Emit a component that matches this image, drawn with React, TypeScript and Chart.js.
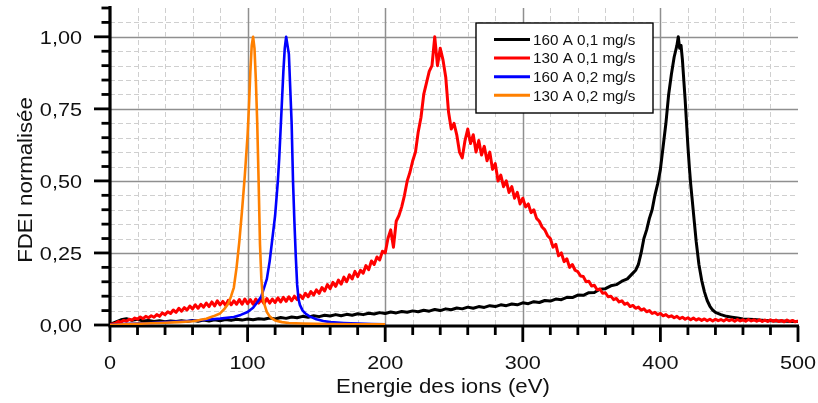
import React, { useEffect, useRef } from "react";
import { Chart, registerables } from "chart.js";

Chart.register(...registerables);

// ---- axes ----
const xMin = 0;
const xMax = 500;
const yMin = 0;
const yMax = 1.1;
const xMinorStep = 20;
const xMajorStep = 100;
const yMinorStep = 0.05;
const yMajorStep = 0.25;
const xAxisTitle = "Energie des ions (eV)";
const yAxisTitle = "FDEI normalisée";

// ---- series ----
const seriesLabels = ["160 A 0,1 mg/s", "130 A 0,1 mg/s", "160 A 0,2 mg/s", "130 A 0,2 mg/s"];
const seriesColors = ["#000000", "#ff0000", "#0000ff", "#ff8000"];
const seriesWidths = [3, 3, 2.6, 2.6];

// 160 A 0,1 mg/s (black)
const blackX = [
  0, 4, 8, 12, 16, 20, 24, 28, 32, 36, 40, 44, 48, 52, 56, 60, 64, 68, 72, 76, 80, 84, 88, 92, 96,
  100, 104, 108, 112, 116, 120, 124, 128, 132, 136, 140, 144, 148, 152, 156, 160, 164, 168, 172, 176,
  180, 184, 188, 192, 196, 200, 204, 208, 212, 216, 220, 224, 228, 232, 236, 240, 244, 248, 252, 256,
  260, 264, 268, 272, 276, 280, 284, 288, 292, 296, 300, 304, 308, 312, 316, 320, 324, 328, 332, 336,
  340, 344, 348, 352, 356, 360, 364, 368, 372, 376, 380,
  382, 384, 386, 388, 390, 392, 394, 396, 398, 400, 402, 404, 406, 408, 410,
  411, 412, 413, 414, 415, 416, 417, 418, 419, 420, 421, 422, 423, 424,
  426, 428, 430, 432, 434, 436, 438, 440,
  444, 448, 452, 456, 460, 464, 468, 472, 476, 480, 484, 488, 492, 496, 500,
];
const blackY = [
  0.002, 0.01, 0.018, 0.022, 0.016, 0.02, 0.014, 0.016, 0.012, 0.015,
  0.011, 0.014, 0.012, 0.015, 0.012, 0.016, 0.013, 0.017, 0.014, 0.018,
  0.015, 0.019, 0.016, 0.02, 0.017, 0.021, 0.018, 0.022, 0.02, 0.024,
  0.021, 0.026, 0.023, 0.028, 0.025, 0.03, 0.027, 0.032, 0.029, 0.034,
  0.031, 0.036, 0.032, 0.037, 0.034, 0.039, 0.036, 0.041, 0.038, 0.043,
  0.04, 0.045, 0.042, 0.047, 0.044, 0.049, 0.046, 0.051, 0.048, 0.054,
  0.05, 0.056, 0.053, 0.059, 0.056, 0.062, 0.058, 0.064, 0.061, 0.067,
  0.064, 0.07, 0.067, 0.073, 0.07, 0.077, 0.074, 0.081, 0.078, 0.085,
  0.083, 0.09, 0.088, 0.096, 0.095, 0.104, 0.103, 0.112, 0.113, 0.124,
  0.126, 0.136, 0.14, 0.152, 0.16, 0.18,
  0.19, 0.21, 0.25, 0.3, 0.33, 0.37, 0.4, 0.45, 0.49, 0.54, 0.62, 0.7, 0.8, 0.87, 0.93,
  0.95, 0.97, 1.0, 0.96, 0.97, 0.92, 0.85, 0.78, 0.7, 0.62, 0.55, 0.49, 0.44, 0.39,
  0.29, 0.21, 0.155, 0.115, 0.085, 0.065, 0.052, 0.044,
  0.036, 0.03, 0.027, 0.024, 0.021, 0.02, 0.019, 0.017, 0.016, 0.015, 0.014, 0.014, 0.013, 0.012, 0.012,
];

// 130 A 0,1 mg/s (red), sampled every 2 eV from 0 to 500
const redStart = 0;
const redStep = 2;
const redY = [
  0.002, 0.004, 0.006, 0.012, 0.01, 0.016, 0.013, 0.02, 0.017, 0.024,
  0.02, 0.028, 0.022, 0.03, 0.025, 0.032, 0.027, 0.036, 0.03, 0.042,
  0.036, 0.046, 0.04, 0.052, 0.044, 0.058, 0.048, 0.06, 0.052, 0.066,
  0.056, 0.07, 0.058, 0.072, 0.062, 0.076, 0.064, 0.08, 0.066, 0.084,
  0.07, 0.082, 0.068, 0.086, 0.07, 0.084, 0.072, 0.088, 0.072, 0.09,
  0.074, 0.088, 0.072, 0.09, 0.076, 0.088, 0.074, 0.092, 0.076, 0.09,
  0.078, 0.094, 0.08, 0.096, 0.082, 0.098, 0.084, 0.1, 0.088, 0.104,
  0.092, 0.11, 0.098, 0.116, 0.104, 0.122, 0.11, 0.13, 0.118, 0.14,
  0.126, 0.148, 0.134, 0.156, 0.142, 0.166, 0.15, 0.174, 0.16, 0.186,
  0.168, 0.19, 0.18, 0.206, 0.192, 0.222, 0.21, 0.236, 0.226, 0.256,
  0.25, 0.3, 0.33, 0.27, 0.36, 0.38, 0.41, 0.45, 0.5, 0.53,
  0.57, 0.6, 0.67, 0.72, 0.8, 0.84, 0.88, 0.9, 1.0, 0.9,
  0.96, 0.92, 0.86, 0.74, 0.68, 0.7, 0.66, 0.6, 0.58, 0.64,
  0.68, 0.63, 0.66, 0.6, 0.64, 0.59, 0.62, 0.57, 0.6, 0.54,
  0.56, 0.5, 0.52, 0.48, 0.5, 0.46, 0.48, 0.44, 0.46, 0.42,
  0.44, 0.41, 0.42, 0.39, 0.4, 0.37, 0.36, 0.34, 0.33, 0.31,
  0.3, 0.27, 0.28, 0.24, 0.25, 0.22, 0.23, 0.2, 0.21, 0.19,
  0.185, 0.17, 0.168, 0.15, 0.152, 0.135, 0.138, 0.122, 0.125, 0.11,
  0.112, 0.098, 0.1, 0.088, 0.092, 0.08, 0.084, 0.072, 0.076, 0.064,
  0.068, 0.058, 0.062, 0.052, 0.056, 0.046, 0.05, 0.04, 0.044, 0.036,
  0.04, 0.032, 0.036, 0.028, 0.032, 0.025, 0.03, 0.022, 0.027, 0.02,
  0.025, 0.018, 0.024, 0.017, 0.022, 0.016, 0.021, 0.015, 0.02, 0.014,
  0.02, 0.015, 0.019, 0.014, 0.02, 0.015, 0.019, 0.013, 0.019, 0.014,
  0.018, 0.013, 0.019, 0.014, 0.018, 0.013, 0.018, 0.012, 0.017, 0.012,
  0.018, 0.013, 0.017, 0.012, 0.016, 0.011, 0.017, 0.012, 0.016, 0.011,
  0.014,
];

// 160 A 0,2 mg/s (blue)
const blueX = [
  0, 10, 20, 30, 40, 50, 60, 70, 80, 90, 95, 100, 104, 108, 110, 112, 114, 116, 118, 120, 122,
  123, 124, 125, 126, 127, 128, 129, 130, 131, 132, 133, 134, 135, 136, 137, 138, 140, 142, 145,
  150, 155, 160, 170, 180, 190, 200,
];
const blueY = [
  0, 0.003, 0.005, 0.007, 0.01, 0.012, 0.015, 0.018, 0.022, 0.028, 0.035, 0.045, 0.06, 0.085, 0.1,
  0.13, 0.16, 0.22, 0.3, 0.38, 0.5, 0.58, 0.68, 0.78, 0.88, 0.96, 1.0, 0.97, 0.94, 0.82, 0.7, 0.5,
  0.36, 0.24, 0.14, 0.09, 0.07, 0.05, 0.04, 0.03, 0.02, 0.014, 0.01, 0.007, 0.005, 0.003, 0.002,
];

// 130 A 0,2 mg/s (orange)
const orangeX = [
  0, 10, 20, 30, 40, 50, 60, 65, 70, 75, 80, 83, 86, 88, 90, 92, 94, 96, 98, 100, 101, 102, 103,
  104, 105, 106, 107, 108, 109, 110, 111, 112, 114, 116, 118, 120, 125, 130, 140, 150, 160, 180, 200,
];
const orangeY = [
  0, 0.002, 0.004, 0.006, 0.008, 0.01, 0.013, 0.017, 0.022, 0.03, 0.04, 0.055, 0.075, 0.1, 0.13,
  0.2, 0.29, 0.4, 0.52, 0.66, 0.76, 0.88, 0.97, 1.0, 0.96, 0.85, 0.7, 0.5, 0.28, 0.16, 0.1, 0.075,
  0.045, 0.03, 0.022, 0.016, 0.01, 0.007, 0.005, 0.004, 0.003, 0.002, 0.002,
];

const FONT = '"Liberation Sans", Arial, sans-serif';
const TEXT_STRETCH = 1.14;

function zip(xs: number[], ys: number[]) {
  const n = Math.min(xs.length, ys.length);
  const out: { x: number; y: number }[] = [];
  for (let i = 0; i < n; i++) out.push({ x: xs[i], y: ys[i] });
  return out;
}

function isMultiple(v: number, step: number) {
  const r = v / step;
  return Math.abs(r - Math.round(r)) < 1e-6;
}

function drawText(ctx: CanvasRenderingContext2D, text: string, x: number, y: number, align: CanvasTextAlign, sx: number, rot = 0) {
  ctx.save();
  ctx.translate(x, y);
  if (rot) ctx.rotate(rot);
  ctx.scale(sx, 1);
  ctx.textAlign = align;
  ctx.textBaseline = "alphabetic";
  ctx.fillText(text, 0, 0);
  ctx.restore();
}

const framePlugin = {
  id: "frame",
  beforeDatasetsDraw(chart: any) {
    const { ctx, chartArea: a } = chart;
    const xs = chart.scales.x;
    const ys = chart.scales.y;
    const y0 = ys.getPixelForValue(yMin);
    const x0 = xs.getPixelForValue(xMin);
    ctx.save();

    // grid lines
    for (const t of ys.ticks) {
      const v = t.value;
      if (v <= yMin + 1e-9 || v >= yMax - 1e-9) continue;
      const py = Math.round(ys.getPixelForValue(v)) + 0.5;
      const major = isMultiple(v, yMajorStep);
      ctx.beginPath();
      ctx.setLineDash(major ? [] : [5, 3]);
      ctx.strokeStyle = major ? "#8f8f8f" : "#cfcfcf";
      ctx.lineWidth = major ? 1.5 : 1;
      ctx.moveTo(a.left, py);
      ctx.lineTo(a.right, py);
      ctx.stroke();
    }
    for (const t of xs.ticks) {
      const v = t.value;
      if (v <= xMin + 1e-9 || v >= xMax - 1e-9) continue;
      const px = Math.round(xs.getPixelForValue(v)) + 0.5;
      const major = isMultiple(v, xMajorStep);
      ctx.beginPath();
      ctx.setLineDash(major ? [] : [5, 3]);
      ctx.strokeStyle = major ? "#8f8f8f" : "#cfcfcf";
      ctx.lineWidth = major ? 1.5 : 1;
      ctx.moveTo(px, a.top);
      ctx.lineTo(px, a.bottom);
      ctx.stroke();
    }
    ctx.setLineDash([]);

    // axis lines
    ctx.strokeStyle = "#000";
    ctx.lineWidth = 3.2;
    ctx.beginPath();
    ctx.moveTo(x0 - 1.6, y0 + 1);
    ctx.lineTo(a.right + 1, y0 + 1);
    ctx.stroke();
    ctx.beginPath();
    ctx.moveTo(x0, y0 + 1);
    ctx.lineTo(x0, a.top - 2);
    ctx.stroke();

    // tick marks + labels
    ctx.lineWidth = 2.8;
    ctx.fillStyle = "#111";
    ctx.font = `19px ${FONT}`;
    for (const t of xs.ticks) {
      const v = t.value;
      const px = xs.getPixelForValue(v);
      const major = isMultiple(v, xMajorStep);
      ctx.beginPath();
      ctx.moveTo(px, y0 + 1);
      ctx.lineTo(px, y0 + (major ? 17 : 10));
      ctx.stroke();
      if (major) drawText(ctx, String(Math.round(v)), px, y0 + 43.5, "center", TEXT_STRETCH);
    }
    for (const t of ys.ticks) {
      const v = t.value;
      const py = ys.getPixelForValue(v);
      const major = isMultiple(v, yMajorStep);
      ctx.beginPath();
      ctx.moveTo(x0, py);
      ctx.lineTo(x0 - (major ? 16 : 8.5), py);
      ctx.stroke();
      if (major) drawText(ctx, v.toFixed(2).replace(".", ","), x0 - 28, py + 6.8, "right", TEXT_STRETCH);
    }

    // axis titles
    ctx.font = `19.5px ${FONT}`;
    drawText(ctx, xAxisTitle, (a.left + a.right) / 2 - 11, y0 + 68, "center", TEXT_STRETCH);
    drawText(ctx, yAxisTitle, x0 - 78, (a.top + a.bottom) / 2 + 13.5, "center", TEXT_STRETCH, -Math.PI / 2);
    ctx.restore();
  },
  afterDatasetsDraw(chart: any) {
    const { ctx, chartArea: a } = chart;
    const left = a.left + 366;
    const top = a.top + 15;
    const w = 177;
    const h = 90;
    ctx.save();
    ctx.fillStyle = "#fff";
    ctx.fillRect(left, top, w, h);
    ctx.strokeStyle = "#000";
    ctx.lineWidth = 1.4;
    ctx.strokeRect(left, top, w, h);
    ctx.font = `14.5px ${FONT}`;
    seriesLabels.forEach((label, i) => {
      const cy = top + 16.5 + i * 18.6;
      ctx.strokeStyle = seriesColors[i];
      ctx.lineWidth = 3;
      ctx.beginPath();
      ctx.moveTo(left + 18, cy);
      ctx.lineTo(left + 54, cy);
      ctx.stroke();
      ctx.fillStyle = "#111";
      drawText(ctx, label, left + 57, cy + 5.2, "left", 1.05);
    });
    ctx.restore();
  },
};

export default function App() {
  const ref = useRef<HTMLCanvasElement | null>(null);
  useEffect(() => {
    if (!ref.current) return;
    const redX = redY.map((_, i) => redStart + i * redStep);
    const sources = [
      zip(blackX, blackY),
      zip(redX, redY),
      zip(blueX, blueY),
      zip(orangeX, orangeY),
    ];
    const chart = new Chart(ref.current, {
      type: "line",
      data: {
        datasets: sources.map((data, i) => ({
          label: seriesLabels[i],
          data,
          borderColor: seriesColors[i],
          backgroundColor: seriesColors[i],
          borderWidth: seriesWidths[i],
          borderJoinStyle: "round",
          pointRadius: 0,
          tension: 0,
          fill: false,
          order: 4 - i,
        })),
      },
      options: {
        animation: false,
        responsive: false,
        parsing: true,
        layout: { padding: { top: 8, right: 20, left: 0, bottom: 0 } },
        plugins: { legend: { display: false }, tooltip: { enabled: false } },
        scales: {
          x: {
            type: "linear",
            min: xMin,
            max: xMax,
            ticks: { stepSize: xMinorStep, display: false, maxTicksLimit: 1000 },
            grid: { display: false },
            border: { display: false },
            afterFit: (s: any) => {
              s.height = 78;
            },
          },
          y: {
            type: "linear",
            min: yMin,
            max: yMax,
            ticks: { stepSize: yMinorStep, display: false, maxTicksLimit: 1000 },
            grid: { display: false },
            border: { display: false },
            afterFit: (s: any) => {
              s.width = 110;
            },
          },
        },
      },
      plugins: [framePlugin],
    } as any);
    return () => chart.destroy();
  }, []);

  return (
    <div style={{ position: "absolute", left: 0, top: 0, width: 818, height: 403, background: "#fff" }}>
      <canvas ref={ref} width={818} height={403} style={{ display: "block" }} />
    </div>
  );
}
